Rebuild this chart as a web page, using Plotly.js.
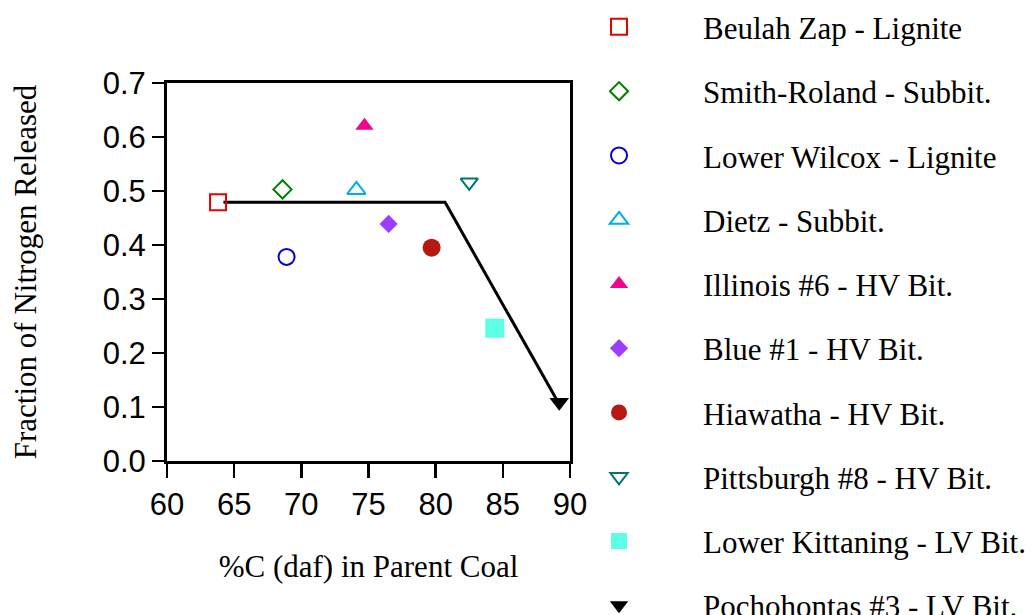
<!DOCTYPE html>
<html>
<head>
<meta charset="utf-8">
<script src="https://cdn.plot.ly/plotly-3.0.1.min.js"></script>
<style>html,body{margin:0;padding:0;background:#fff;}#chart{width:1034px;height:615px;}</style>
</head>
<body>
<div id="chart"></div>
<script>
// Data
const coalNames = [
  "Beulah Zap - Lignite",
  "Smith-Roland - Subbit.",
  "Lower Wilcox - Lignite",
  "Dietz - Subbit.",
  "Illinois #6 - HV Bit.",
  "Blue #1 - HV Bit.",
  "Hiawatha - HV Bit.",
  "Pittsburgh #8 - HV Bit.",
  "Lower Kittaning - LV Bit.",
  "Pochohontas #3 - LV Bit."
];
const carbonPct = [63.8, 68.6, 68.9, 74.1, 74.7, 76.5, 79.7, 82.5, 84.4, 89.2];
const nitrogenReleased = [0.479, 0.503, 0.378, 0.502, 0.621, 0.439, 0.395, 0.516, 0.246, 0.109];
const trendX = [64.2, 80.7, 89.2];
const trendY = [0.479, 0.479, 0.105];
const xTicks = [60, 65, 70, 75, 80, 85, 90];
const yTicks = [0.0, 0.1, 0.2, 0.3, 0.4, 0.5, 0.6, 0.7];

// Styles
const symbols = ["square-open","diamond-open","circle-open","triangle-up-open","triangle-up","diamond","circle","triangle-down-open","square","triangle-down"];
const colors = ["#e60000","#008000","#0000d6","#00aef0","#f0068a","#9b3cff","#b81810","#007373","#5cffe4","#000000"];
const sizes = [16, 14, 16, 16, 16, 14, 18, 15, 19, 17];

const traces = [{
  x: trendX, y: trendY, type: "scatter", mode: "lines",
  line: {color: "#000", width: 3}, showlegend: false, hoverinfo: "skip"
}];
coalNames.forEach((name, i) => {
  const open = symbols[i].endsWith("-open");
  traces.push({
    x: [carbonPct[i]], y: [nitrogenReleased[i]], type: "scatter", mode: "markers",
    name: name, legendgroup: "g" + i, legend: i < 5 ? "legend" : "legend2",
    marker: {symbol: symbols[i], size: sizes[i], color: colors[i],
             line: {color: colors[i], width: open ? 2 : 0}}
  });
});

const legendFont = {family: "Liberation Serif, Times New Roman, serif", size: 31, color: "#000"};
const layout = {
  width: 1034, height: 615,
  margin: {l: 167, r: 464, t: 83, b: 154, autoexpand: false},
  paper_bgcolor: "#fff", plot_bgcolor: "#fff",
  showlegend: true,
  legend: {
    x: 0.9132, xanchor: "left", y: 1.219, yanchor: "top",
    traceorder: "grouped", tracegroupgap: 21, itemwidth: 158,
    font: legendFont, bgcolor: "rgba(0,0,0,0)"
  },
  legend2: {
    x: 0.9132, xanchor: "left", y: 0.369, yanchor: "top",
    traceorder: "grouped", tracegroupgap: 21, itemwidth: 158,
    font: legendFont, bgcolor: "rgba(0,0,0,0)"
  },
  xaxis: {
    range: [60, 90], tickvals: xTicks, ticktext: xTicks.map(v => String(v)),
    ticks: "outside", ticklen: 14, tickwidth: 2.5, tickcolor: "#000",
    showline: true, linewidth: 3, linecolor: "#000", mirror: true,
    showgrid: false, zeroline: false,
    tickfont: {family: "Liberation Sans, Arial, sans-serif", size: 31, color: "#000"},
    title: {text: "%C (daf) in Parent Coal", standoff: 35,
            font: {family: "Liberation Serif, Times New Roman, serif", size: 31, color: "#000"}}
  },
  yaxis: {
    range: [0, 0.7], tickvals: yTicks, ticktext: yTicks.map(v => v.toFixed(1)),
    ticks: "outside", ticklen: 12, tickwidth: 2.5, tickcolor: "#000",
    showline: true, linewidth: 3, linecolor: "#000", mirror: true,
    showgrid: false, zeroline: false,
    tickfont: {family: "Liberation Sans, Arial, sans-serif", size: 31, color: "#000"},
    title: {text: "Fraction of Nitrogen Released", standoff: 57,
            font: {family: "Liberation Serif, Times New Roman, serif", size: 31, color: "#000"}}
  }
};

Plotly.newPlot("chart", traces, layout, {displayModeBar: false, staticPlot: true});
</script>
</body>
</html>
